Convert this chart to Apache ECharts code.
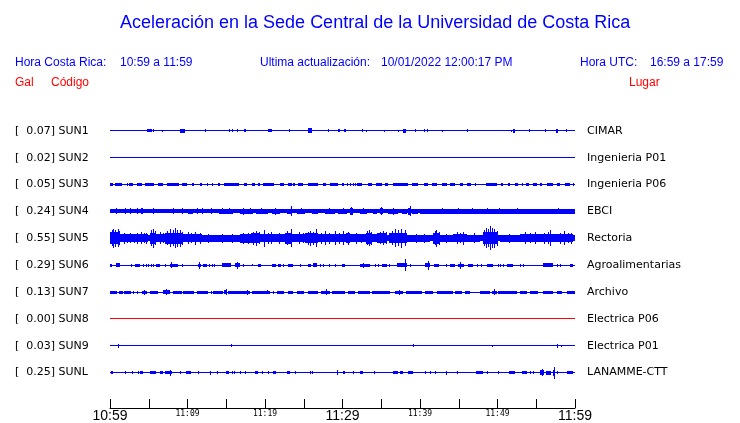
<!DOCTYPE html>
<html><head><meta charset="utf-8">
<script src="https://cdn.jsdelivr.net/npm/echarts@6/dist/echarts.min.js"></script>
<style>html,body{margin:0;padding:0;background:#fff}#c{width:740px;height:423px}</style>
</head><body><div id="c"></div>
<script>
// ---------------- DATA ----------------
const chartTitle = 'Aceleración en la Sede Central de la Universidad de Costa Rica';
const localRange = '10:59 a 11:59';
const utcRange = '16:59 a 17:59';
const lastUpdate = '10/01/2022 12:00:17 PM';

const stationCodes = ['SUN1','SUN2','SUN3','SUN4','SUN5','SUN6','SUN7','SUN8','SUN9','SUNL'];
const galValues = [0.07, 0.02, 0.05, 0.24, 0.55, 0.29, 0.13, 0.00, 0.03, 0.25];
const places = ['CIMAR','Ingenieria P01','Ingenieria P06','EBCI','Rectoria','Agroalimentarias','Archivo','Electrica P06','Electrica P01','LANAMME-CTT'];

// time axis: minutes after 10:59
const tickMinutes = [0, 10, 20, 30, 40, 50, 60];
const tickLabels = ['10:59','11:09','11:19','11:29','11:39','11:49','11:59'];
const majorMinutes = [0, 30, 60];

// background noise half-amplitude of each trace (amplitude units, row spacing = 27)
const baseAmp = [0.5, 0.5, 0.5, 2, 3, 0.5, 0.5, 0.5, 0.5, 0.5];

// envelope events per trace: [startMinute, endMinute, halfAmplitude]
const evSUN1 = [[4.8,5.4,1.5],[5.5,5.5,1.5],[6.7,6.7,1],[9.0,9.7,2],[12.3,12.3,1.5],[15.4,15.4,1.5],[15.7,15.7,1.5],[16.4,16.4,1.5],[17.3,17.5,1.5],[20.4,20.9,1.5],[23.1,23.1,1.5],[25.5,26.1,2.5],[28.1,28.1,1.5],[29.4,29.7,1.5],[30.2,30.5,1.5],[32.5,32.5,1.5],[33.0,33.0,1],[35.4,35.4,1],[37.2,37.2,1],[37.8,38.2,2],[39.4,39.4,1.5],[40.5,40.5,1.5],[40.9,40.9,1.5],[42.8,42.8,1],[46.1,46.1,1.5],[51.7,51.7,1],[52.0,52.3,2],[54.1,54.1,1.5],[56.1,56.1,1.5],[57.5,57.8,2],[58.8,58.8,1.5]];
const evSUN2 = [];
const evSUN3 = [[0,0.4,1.4],[0.6,1.5,1.4],[2.2,2.2,1.5],[2.5,3.0,1.4],[3.5,4.1,1.4],[4.5,5.7,1.4],[6.2,6.8,1.4],[7.4,8.9,1.4],[9.3,9.9,1.4],[10.6,10.8,1.4],[11.6,11.9,1.4],[12.5,12.5,1.5],[13.2,13.3,1.4],[13.9,14.2,1.4],[14.7,16.6,1.4],[17.3,17.7,1.4],[18.3,18.7,1.4],[19.1,19.4,1.4],[19.7,21.2,1.4],[21.9,22.5,1.4],[23.0,23.5,1.4],[23.6,23.9,1.4],[24.3,24.9,1.4],[25.5,26.8,1.4],[27.5,27.9,1.4],[28.4,29.4,1.4],[29.9,30.2,1.4],[30.6,30.6,1.5],[31.0,31.0,1.5],[31.4,31.4,1.5],[31.6,31.6,1.5],[31.9,32.5,1.4],[33.3,33.8,1.4],[34.3,35.1,1.4],[35.5,35.9,1.4],[36.5,38.5,1.4],[39.0,39.7,1.4],[40.5,41.0,1.4],[41.5,42.2,1.4],[42.8,43.5,1.4],[43.9,44.5,1.4],[45.2,45.5,1.4],[46.1,46.6,1.4],[47.1,47.1,1.5],[48.5,49.9,1.4],[50.5,50.7,1.4],[51.4,51.6,1.4],[52.3,52.6,1.4],[53.2,53.3,1.4],[53.7,54.1,1.4],[54.6,55.1,1.4],[55.5,55.7,1.4],[56.4,57.2,1.4],[57.7,58.1,1.4],[58.7,59.4,1.4],[59.7,59.7,1.5]];
const evSUN4 = [[0.8,0.8,3],[1.9,1.9,3],[2.6,2.6,3],[3.5,3.5,3],[4.0,4.3,3],[5.5,5.5,3],[8.1,8.1,3.2],[9.3,9.3,3],[10.1,10.7,2.5],[11.2,11.2,3],[11.9,11.9,3],[13.0,13.0,3],[14.0,15.9,2.3],[14.5,14.5,3],[15.3,15.3,3],[16.8,18.5,2.4],[17.2,17.2,3.5],[18.0,18.0,3],[18.9,20.4,2.4],[19.5,19.5,3],[20.9,21.9,2.5],[21.3,21.3,3.5],[22.8,23.5,2.6],[23.4,23.4,5],[24.1,25.2,2.4],[24.6,24.6,3],[26.1,26.8,2.4],[27.7,29.0,2.5],[28.3,28.3,3.2],[29.4,30.6,2.5],[30.0,30.0,3],[31.0,31.3,3.5],[31.1,31.1,4],[32.3,33.2,2.5],[32.7,32.7,3.2],[33.9,34.4,2.4],[34.8,35.2,3],[35.0,35.0,4],[35.9,37.2,2.6],[36.5,36.5,3.5],[37.7,38.3,2.5],[38.5,38.8,3.5],[38.7,38.7,5],[39.0,39.7,2.5],[40.0,60.0,2.5],[40.8,41.3,2.7],[42.8,42.8,3],[44.9,44.9,3],[46.7,46.9,2.8],[48.6,48.6,3],[50.2,50.2,2.8],[52.5,52.5,2.8],[57.8,57.8,3]];
const evSUN5 = [[0.0,1.3,6],[0.2,0.2,8],[0.4,0.4,9.5],[0.7,0.7,8.5],[1.0,1.0,9],[1.2,1.2,7],[1.3,4.9,3.8],[1.8,1.8,5.5],[2.2,2.2,4.5],[2.6,2.6,5],[3.1,3.1,4.5],[3.5,3.5,5.5],[4.0,4.0,6],[4.4,4.4,5],[4.7,4.7,5.5],[5.1,5.9,5.5],[5.3,5.3,8],[5.5,5.5,9.5],[5.8,5.8,7],[5.9,7.1,4.2],[6.4,6.4,6],[6.8,6.8,5],[7.1,9.4,5.5],[7.4,7.4,7],[7.7,7.7,9],[8.1,8.1,8],[8.4,8.4,10],[8.7,8.7,8.5],[9.0,9.0,8.5],[9.3,9.3,6.5],[9.4,11.9,4],[10.0,10.0,6],[10.5,10.5,5],[11.0,11.0,6.5],[11.6,11.6,5.5],[11.9,13.5,3.5],[12.6,12.6,4.5],[13.5,16.8,3.3],[14.5,14.5,4.5],[15.8,15.8,4.5],[16.8,18.2,4.5],[17.2,17.2,5.5],[17.8,17.8,5.5],[18.2,19.4,5],[18.5,18.5,6.5],[18.9,18.9,7.5],[19.2,19.2,6],[19.4,21.3,4.2],[19.9,19.9,8.5],[20.4,20.4,5.5],[20.8,20.8,6],[21.3,22.6,4.2],[21.8,21.8,5.5],[22.6,23.5,5.5],[22.9,22.9,7],[23.3,23.3,9],[23.5,25.2,4.2],[24.4,24.4,6],[24.9,24.9,5],[25.2,26.8,5],[25.5,25.5,6.5],[25.8,25.8,7.5],[26.2,26.2,6.5],[26.6,26.6,9],[26.8,30.5,4.2],[27.2,27.2,5.5],[27.7,27.7,7],[28.3,28.3,5.5],[29.0,29.0,7],[29.5,29.5,5.5],[30.0,30.0,7],[30.5,31.0,5],[30.7,30.7,6.5],[31.0,33.0,3.8],[31.8,31.8,5.5],[32.4,32.4,4.5],[33.0,33.8,5.5],[33.2,33.2,7],[33.4,33.4,8],[33.7,33.7,6.5],[33.8,34.5,3.8],[34.5,35.8,5],[34.8,34.8,6],[35.2,35.2,7],[35.6,35.6,6],[36.0,38.3,5.2],[36.4,36.4,7],[36.8,36.8,9],[37.2,37.2,8],[37.5,37.5,9.5],[38.0,38.0,8],[38.3,41.3,3.3],[39.5,39.5,4.5],[40.5,40.5,4.5],[41.7,42.6,5.5],[41.9,41.9,7],[42.1,42.1,8.5],[42.4,42.4,6.5],[42.6,44.2,3.5],[43.4,43.4,4.5],[44.2,46.1,4.2],[44.8,44.8,6],[45.2,45.2,5],[45.5,45.5,6.5],[46.1,47.7,3.5],[47.0,47.0,5],[48.1,50.1,6],[48.3,48.3,8],[48.5,48.5,10],[48.8,48.8,9],[49.0,49.0,12],[49.3,49.3,10],[49.6,49.6,9.5],[49.9,49.9,7.5],[50.3,52.9,3.3],[51.5,51.5,4.5],[52.9,55.5,3.8],[53.5,53.5,6],[54.2,54.2,5],[54.8,54.8,6],[55.5,57.2,4.2],[56.0,56.0,5.5],[56.5,56.5,6],[56.8,56.8,8],[57.2,59.7,3.8],[58.0,58.0,5.5],[58.6,58.6,7],[59.1,59.1,5],[59.5,59.5,5.5]];
const evSUN6 = [[0,0.3,1.5],[0.8,1.3,1.8],[2.7,2.7,1.5],[3.2,3.9,1.7],[4.3,4.3,1.5],[4.6,4.6,1.5],[4.9,4.9,1.5],[5.3,5.3,1.5],[5.5,5.5,1.5],[5.9,6.5,1.7],[7.1,7.1,1.5],[7.7,8.8,1.7],[7.9,7.9,3],[9.3,9.3,1.5],[11.4,11.7,1.7],[11.5,11.5,3.5],[12.0,12.5,1.7],[12.8,12.8,1.5],[13.2,13.2,1.5],[13.4,13.4,1.5],[14.5,15.6,1.8],[16.1,16.8,2],[16.4,16.4,3.5],[17.1,17.1,1.5],[18.3,18.3,1],[19.1,19.5,1.7],[20.9,21.4,1.7],[21.7,22.0,1.5],[22.3,22.3,1.5],[23.0,23.6,1.7],[24.5,24.5,1.5],[25.5,25.9,1.5],[26.2,26.7,2],[27.1,27.1,1.5],[27.5,27.5,1.5],[28.3,28.3,1.5],[29.0,29.0,1.5],[29.9,30.3,1.7],[32.3,33.5,1.7],[32.6,32.6,2.5],[34.2,34.2,1.5],[34.6,34.6,1.5],[35.1,35.7,1.5],[36.0,36.0,1.5],[37.0,38.3,2],[38.1,38.1,6],[38.7,38.7,1.5],[40.6,41.3,2],[41.0,41.0,4.5],[41.8,42.5,1.7],[43.4,43.4,1.5],[43.9,44.5,1.7],[44.9,45.7,1.7],[45.1,45.1,3.5],[46.2,46.8,1.5],[47.4,47.4,1.5],[47.9,47.9,1.5],[48.6,49.4,1.7],[50.0,50.0,1.5],[50.3,50.3,1.5],[50.7,50.7,1.5],[51.2,52.0,1.7],[52.9,52.9,1.5],[53.3,53.3,1.5],[55.9,57.2,1.8],[57.7,57.7,1.5],[58.1,58.1,1.5],[59.4,59.7,1.7]];
const evSUN7 = [[0,0.9,1.5],[1.2,1.7,1.5],[1.8,2.7,1.5],[3.0,3.0,1.5],[3.5,3.5,1.5],[4.1,4.8,1.5],[4.4,4.4,2.5],[5.2,6.2,1.5],[6.8,7.7,2],[7.2,7.2,3],[8.1,9.3,1.5],[9.4,10.8,1.5],[11.2,12.6,1.5],[13.0,13.0,1.5],[13.3,14.6,1.5],[14.7,15.1,2],[15.0,15.0,3],[15.2,18.1,1.6],[17.7,17.7,2.5],[18.3,20.6,1.5],[20.3,20.3,2.2],[21.0,21.0,1.5],[21.5,22.5,1.5],[23.0,23.6,1.5],[24.1,25.0,1.5],[25.5,26.8,1.5],[27.2,28.4,1.7],[27.9,27.9,3],[28.6,30.3,1.5],[30.7,31.6,1.5],[32.0,33.5,1.5],[33.8,36.1,1.5],[36.8,37.8,1.6],[37.3,37.3,2.5],[38.2,40.3,1.5],[40.6,41.7,1.5],[42.2,44.3,1.5],[44.5,45.4,1.5],[45.8,46.5,1.5],[47.7,49.0,1.5],[49.3,49.9,1.7],[49.5,49.5,3],[50.1,52.5,1.5],[52.9,53.8,1.5],[54.2,55.2,1.5],[55.9,57.2,1.5],[57.7,58.3,1.5],[59.0,60,1.5]];
const evSUN8 = [];
const evSUN9 = [[1.0,1.0,2],[15.6,15.6,1.5],[39.1,39.1,1.5],[49.3,49.3,1.2],[57.7,57.7,2],[58.2,58.2,1.2]];
const evSUNL = [[0.1,0.4,1.5],[1.9,1.9,1.5],[2.8,2.8,1.5],[3.6,3.6,1.5],[3.9,4.3,1.5],[5.2,5.9,1.5],[6.5,6.8,1.5],[7.1,8.0,1.7],[7.8,7.8,2.8],[9.0,9.0,1.5],[9.8,10.5,1.5],[11.4,11.4,1.5],[12.9,12.9,2.2],[13.8,13.8,1.5],[15.0,15.4,1.5],[15.7,15.7,1.5],[16.0,16.0,1.5],[16.8,16.8,1.5],[17.4,17.4,1.5],[18.7,19.1,1.5],[19.6,19.8,1.5],[20.4,20.4,1.5],[21.0,21.4,1.5],[22.8,23.2,1.5],[23.9,23.9,1.5],[25.8,25.8,1.5],[26.1,26.1,1.5],[29.3,29.3,2.5],[30.1,30.1,1.5],[30.2,30.2,1.5],[31.4,31.4,1.5],[32.3,32.6,1.5],[34.1,34.1,1.5],[36.5,37.2,1.5],[37.4,37.8,1.5],[38.5,39.1,1.5],[40.6,40.6,1.5],[41.3,41.3,1.5],[41.9,41.9,1.5],[43.4,43.5,2.2],[44.8,44.8,1.5],[47.2,48.1,1.5],[48.6,48.6,1.5],[50.1,50.1,1.5],[51.5,52.3,1.5],[53.2,53.8,1.5],[54.2,54.2,1.5],[54.6,54.6,1.5],[55.5,56.0,2.5],[55.8,55.8,3.5],[56.3,56.9,2],[57.2,57.4,3],[57.3,57.3,6],[57.7,57.7,1.5],[59.0,59.7,1.7]];
const traceEvents = [evSUN1, evSUN2, evSUN3, evSUN4, evSUN5, evSUN6, evSUN7, evSUN8, evSUN9, evSUNL];

// ---------------- STYLE / LAYOUT ----------------
const BLUE = '#0000ff', RED = '#ff0000';
const traceColor = code => code === 'SUN8' ? RED : BLUE;
const ROW_UNITS = 27; // amplitude units per row band

const chart = echarts.init(document.getElementById('c'), null, {renderer: 'canvas'});

const leftLabels = stationCodes.map((c, i) => '[  ' + galValues[i].toFixed(2) + '] ' + c);

function renderEvent(params, api) {
  const t0 = api.value(0), t1 = api.value(1), amp = api.value(2), row = api.value(3);
  const p0 = api.coord([t0, row]);
  const p1 = api.coord([t1, row]);
  const unit = api.size([0, 1])[1] / ROW_UNITS;
  const x0 = Math.round(p0[0]);
  const x1 = Math.max(Math.round(p1[0]), x0 + 1);
  const h = Math.max(1, Math.round(2 * amp * unit));
  const y = Math.round(p0[1] - h / 2);
  return {type: 'rect', shape: {x: x0, y: y, width: x1 - x0, height: h},
          style: {fill: api.visual('color')}};
}

const series = stationCodes.map((code, i) => {
  const data = [[0, 60, baseAmp[i], i]].concat(traceEvents[i].map(e => [e[0], e[1], e[2], i]));
  return {
    type: 'custom', name: code, xAxisIndex: 0, yAxisIndex: 0,
    renderItem: renderEvent, data: data, clip: false, silent: true,
    encode: {x: [0, 1], y: 3}, itemStyle: {color: traceColor(code)}, animation: false
  };
});

const hdr = (text, left, top, color, size) => ({
  text: text, left: left, top: top, padding: 0,
  textStyle: {color: color, fontSize: size || 12, fontWeight: 'normal', fontFamily: 'Liberation Sans'}
});

const option = {
  animation: false,
  backgroundColor: '#ffffff',
  title: [
    hdr(chartTitle, 120, 14, BLUE, 18),
    hdr('Hora Costa Rica:', 15, 57, BLUE),
    hdr(localRange, 120, 57, BLUE),
    hdr('Ultima actualización:', 260, 57, BLUE),
    hdr(lastUpdate, 381, 57, BLUE),
    hdr('Hora UTC:', 580, 57, BLUE),
    hdr(utcRange, 650, 57, BLUE),
    hdr('Gal', 15, 77, RED),
    hdr('Código', 51, 77, RED),
    hdr('Lugar', 629, 77, RED)
  ],
  grid: {left: 110, right: 165, top: 117.5, bottom: 35.5, containLabel: false},
  xAxis: {
    type: 'value', min: 0, max: 60, interval: 5, position: 'bottom', offset: 22,
    axisLine: {show: true, lineStyle: {color: '#000', width: 1}},
    axisTick: {show: true, inside: true, length: 9, lineStyle: {color: '#000', width: 1}},
    splitLine: {show: false},
    axisLabel: {
      margin: 1, showMinLabel: true, showMaxLabel: true,
      formatter: v => {
        const k = tickMinutes.indexOf(v);
        if (k < 0) return '';
        return (majorMinutes.indexOf(v) >= 0 ? '{big|' : '{small|') + tickLabels[k] + '}';
      },
      rich: {
        big: {fontFamily: 'Liberation Sans', fontSize: 14, color: '#000'},
        small: {fontFamily: 'DejaVu Sans Mono', fontSize: 8, color: '#000', padding: [1, 0, 0, 0]}
      }
    }
  },
  yAxis: [
    {type: 'category', data: leftLabels, inverse: true, position: 'left',
     axisLine: {show: false}, axisTick: {show: false}, splitLine: {show: false},
     axisLabel: {align: 'left', margin: 95, fontFamily: 'DejaVu Sans', fontSize: 11, color: '#000'}},
    {type: 'category', data: places, inverse: true, position: 'right',
     axisLine: {show: false}, axisTick: {show: false}, splitLine: {show: false},
     axisLabel: {align: 'left', margin: 12, fontFamily: 'DejaVu Sans', fontSize: 11, color: '#000'}}
  ],
  series: series
};
chart.setOption(option);
</script>
</body></html>
